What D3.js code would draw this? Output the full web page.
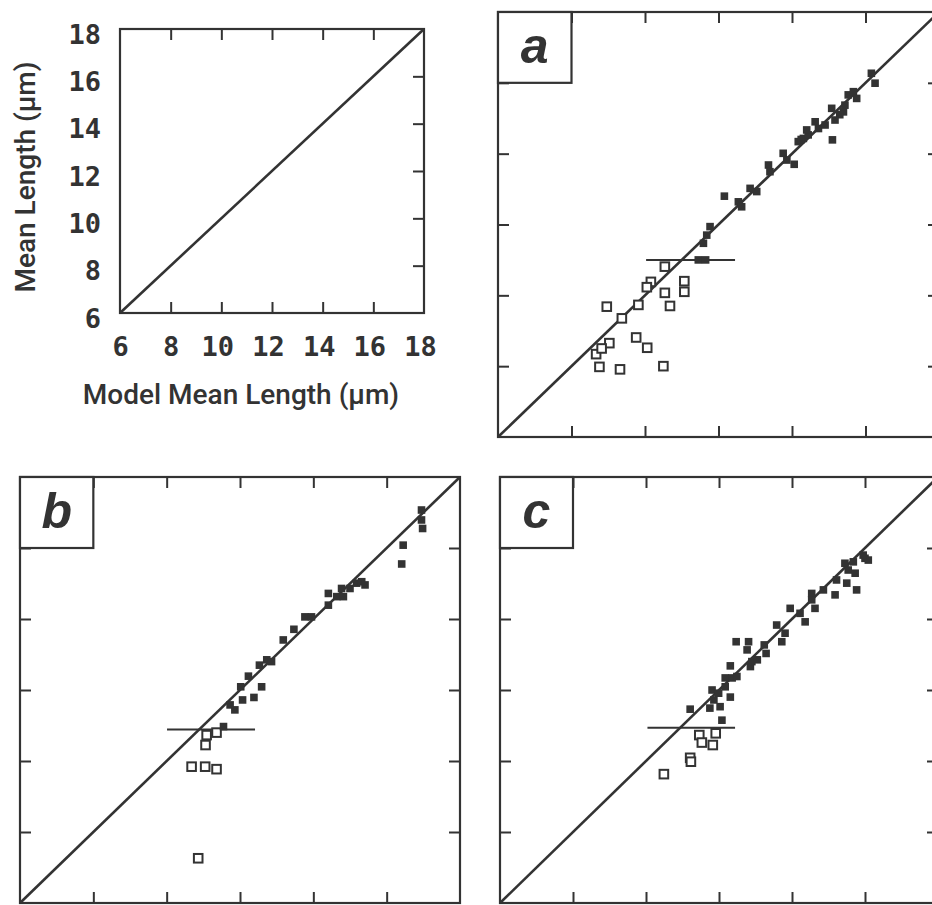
<!DOCTYPE html>
<html>
<head>
<meta charset="utf-8">
<script src="https://cdn.jsdelivr.net/npm/d3@7"></script>
<style>
  body { margin: 0; background: #fff; }
  svg { display: block; overflow: hidden; }
</style>
</head>
<body>
<svg width="932" height="905"></svg>
<script>
// axis range shared by every panel
const domainLen = [6, 18];
const innerTicks = [8, 10, 12, 14, 16];
const keyTicks = [6, 8, 10, 12, 14, 16, 18];

// open squares = lower group, filled squares = upper group
const openA = [[8.96, 9.68], [8.67, 8.34], [8.76, 7.98], [9.03, 8.65], [8.82, 8.50], [9.32, 7.91],
  [9.37, 9.35], [9.76, 8.81], [9.82, 9.73], [10.06, 8.52], [10.16, 10.38], [10.05, 10.23],
  [10.50, 8.00], [10.54, 10.81], [10.54, 10.07], [10.68, 9.70], [11.07, 10.40], [11.07, 10.10]];
const filledA = [[11.45, 11.0], [11.65, 11.0], [11.59, 11.47], [11.68, 11.70], [11.77, 11.94],
  [12.16, 12.80], [12.54, 12.64], [12.63, 12.50], [12.86, 13.02], [13.04, 12.93],
  [13.36, 13.68], [13.40, 13.49], [13.76, 14.01], [13.86, 13.82], [14.06, 13.70],
  [14.17, 14.34], [14.31, 14.43], [14.44, 14.53], [14.40, 14.67], [14.63, 14.90],
  [14.72, 14.71], [14.90, 14.81], [15.08, 15.28], [15.10, 14.39], [15.17, 14.95],
  [15.40, 15.18], [15.44, 15.37], [15.53, 15.66], [15.67, 15.75], [15.76, 15.56],
  [16.16, 16.27], [16.26, 15.99], [14.25, 14.40], [15.30, 15.10]];
const hlineA = [10.03, 12.45, 11.0];

const openB = [[10.86, 7.26], [10.68, 9.84], [11.05, 9.84], [11.36, 9.77], [11.06, 10.45],
  [11.09, 10.73], [11.36, 10.80]];
const filledB = [[11.55, 10.97], [11.86, 11.44], [11.73, 11.58], [12.07, 11.72], [12.02, 12.09],
  [12.38, 11.79], [12.23, 12.39], [12.59, 12.09], [12.53, 12.70], [12.73, 12.85],
  [12.86, 12.80], [13.18, 13.41], [13.47, 13.71], [13.77, 14.06], [13.95, 14.06],
  [14.41, 14.72], [14.41, 14.39], [14.64, 14.63], [14.77, 14.86], [14.82, 14.63],
  [15.00, 14.86], [15.18, 15.01], [15.32, 15.05], [15.41, 14.96], [16.45, 16.08],
  [16.41, 15.55], [16.95, 17.07], [16.95, 16.79], [16.98, 16.55]];
const hlineB = [10.01, 12.41, 10.89];

const openC = [[10.49, 9.63], [11.21, 10.09], [11.23, 9.98], [11.46, 10.73], [11.53, 10.52],
  [11.83, 10.45], [11.91, 10.78]];
const filledC = [[11.21, 11.46], [11.75, 11.49], [12.08, 11.15], [12.03, 11.53], [11.86, 11.72],
  [11.81, 12.0], [11.99, 11.91], [12.17, 12.09], [12.31, 11.80], [12.31, 12.68],
  [12.17, 12.34], [12.36, 12.34], [12.49, 12.38], [12.47, 13.36], [12.81, 13.36],
  [12.77, 13.13], [12.86, 12.66], [12.90, 12.80], [13.05, 12.85], [13.24, 13.27],
  [13.29, 13.03], [13.58, 13.83], [13.72, 13.36], [13.81, 13.60], [13.95, 14.30],
  [14.22, 14.16], [14.36, 13.92], [14.54, 14.72], [14.63, 14.30], [14.54, 14.54],
  [14.86, 14.82], [15.18, 14.68], [15.22, 15.10], [15.45, 15.57], [15.54, 15.38],
  [15.50, 15.01], [15.73, 15.29], [15.77, 14.82], [15.68, 15.61], [16.00, 15.71],
  [16.09, 15.66], [15.95, 15.80]];
const hlineC = [10.04, 12.44, 10.94];

const ink = '#333';
const svg = d3.select('svg');

// builds the frame, inward ticks and diagonal for one panel, returns its scales
function panel(box, sides) {
  const g = svg.append('g');
  const x = d3.scaleLinear().domain(domainLen).range([box.x0, box.x1]);
  const y = d3.scaleLinear().domain(domainLen).range([box.y1, box.y0]);

  const axes = {
    top: [d3.axisTop(x), `translate(0,${box.y0})`],
    bottom: [d3.axisBottom(x), `translate(0,${box.y1})`],
    left: [d3.axisLeft(y), `translate(${box.x0},0)`],
    right: [d3.axisRight(y), `translate(${box.x1},0)`]
  };
  sides.forEach(s => {
    const a = axes[s][0].tickValues(innerTicks).tickSize(-11).tickFormat('');
    const ag = g.append('g').attr('transform', axes[s][1]).call(a);
    ag.select('.domain').remove();
    ag.selectAll('line').attr('stroke', ink).attr('stroke-width', 2);
  });

  g.append('rect')
    .attr('x', box.x0).attr('y', box.y0)
    .attr('width', box.x1 - box.x0).attr('height', box.y1 - box.y0)
    .attr('fill', 'none').attr('stroke', ink).attr('stroke-width', 2.2);

  g.append('line')
    .attr('x1', x(6)).attr('y1', y(6)).attr('x2', x(18)).attr('y2', y(18))
    .attr('stroke', ink).attr('stroke-width', 2.6);

  return { g, x, y };
}

function scatter(p, open, filled, hline, letter) {
  // label box spans one tick step in each direction
  p.g.append('rect')
    .attr('x', p.x(6)).attr('y', p.y(18))
    .attr('width', p.x(8) - p.x(6)).attr('height', p.y(16) - p.y(18))
    .attr('fill', '#fff').attr('stroke', ink).attr('stroke-width', 2.2);
  p.g.append('text')
    .attr('x', (p.x(6) + p.x(8)) / 2)
    .attr('y', p.y(16) - 20)
    .attr('text-anchor', 'middle')
    .style('font-family', '"Liberation Sans", Arial, sans-serif')
    .style('font-weight', 'bold').style('font-style', 'italic')
    .style('font-size', '50px').attr('fill', ink)
    .text(letter);

  p.g.append('line')
    .attr('x1', p.x(hline[0])).attr('x2', p.x(hline[1]))
    .attr('y1', p.y(hline[2])).attr('y2', p.y(hline[2]))
    .attr('stroke', ink).attr('stroke-width', 2);

  p.g.selectAll('.open').data(open).enter().append('rect')
    .attr('class', 'open')
    .attr('x', d => p.x(d[0]) - 4.3).attr('y', d => p.y(d[1]) - 4.3)
    .attr('width', 8.6).attr('height', 8.6)
    .attr('fill', '#fff').attr('stroke', ink).attr('stroke-width', 2);

  p.g.selectAll('.filled').data(filled).enter().append('rect')
    .attr('class', 'filled')
    .attr('x', d => p.x(d[0]) - 3.8).attr('y', d => p.y(d[1]) - 3.8)
    .attr('width', 7.6).attr('height', 7.6)
    .attr('fill', ink);
}

// key panel with labelled axes
const key = panel({ x0: 120, x1: 424, y0: 29, y1: 313 }, ['top', 'bottom', 'right']);
const monoFont = '"DejaVu Sans Mono", monospace';

const kx = key.g.append('g').attr('transform', 'translate(0,313)')
  .call(d3.axisBottom(key.x).tickValues(keyTicks).tickSize(0));
kx.select('.domain').remove();
kx.selectAll('text')
  .attr('y', 43).attr('dy', 0)
  .attr('x', d => d >= 10 ? -4 : 0)
  .style('font-family', monoFont).style('font-weight', 'bold')
  .style('font-size', '27px').attr('fill', ink);

const ky = key.g.append('g').attr('transform', 'translate(120,0)')
  .call(d3.axisLeft(key.y).tickValues(keyTicks).tickSize(0));
ky.select('.domain').remove();
ky.selectAll('text')
  .attr('x', -19).attr('y', 14).attr('dy', 0)
  .style('font-family', monoFont).style('font-weight', 'bold')
  .style('font-size', '27px').attr('fill', ink);

const titleFont = 'Roboto, "Liberation Sans", Arial, sans-serif';
svg.append('text')
  .attr('x', 241).attr('y', 404)
  .attr('text-anchor', 'middle')
  .style('font-family', titleFont).style('font-weight', 500)
  .style('font-size', '28px').attr('fill', ink)
  .text('Model Mean Length (\u00b5m)');
svg.append('text')
  .attr('transform', 'translate(35,177) rotate(-90)')
  .attr('text-anchor', 'middle')
  .style('font-family', titleFont).style('font-weight', 500)
  .style('font-size', '28px').attr('fill', ink)
  .text('Mean Length (\u00b5m)');

const pa = panel({ x0: 498, x1: 939, y0: 12, y1: 437 }, ['top', 'bottom', 'left', 'right']);
scatter(pa, openA, filledA, hlineA, 'a');

const pb = panel({ x0: 20, x1: 460, y0: 477, y1: 903 }, ['top', 'bottom', 'left', 'right']);
scatter(pb, openB, filledB, hlineB, 'b');

const pc = panel({ x0: 500, x1: 938, y0: 477, y1: 903 }, ['top', 'bottom', 'left', 'right']);
scatter(pc, openC, filledC, hlineC, 'c');
</script>
</body>
</html>
